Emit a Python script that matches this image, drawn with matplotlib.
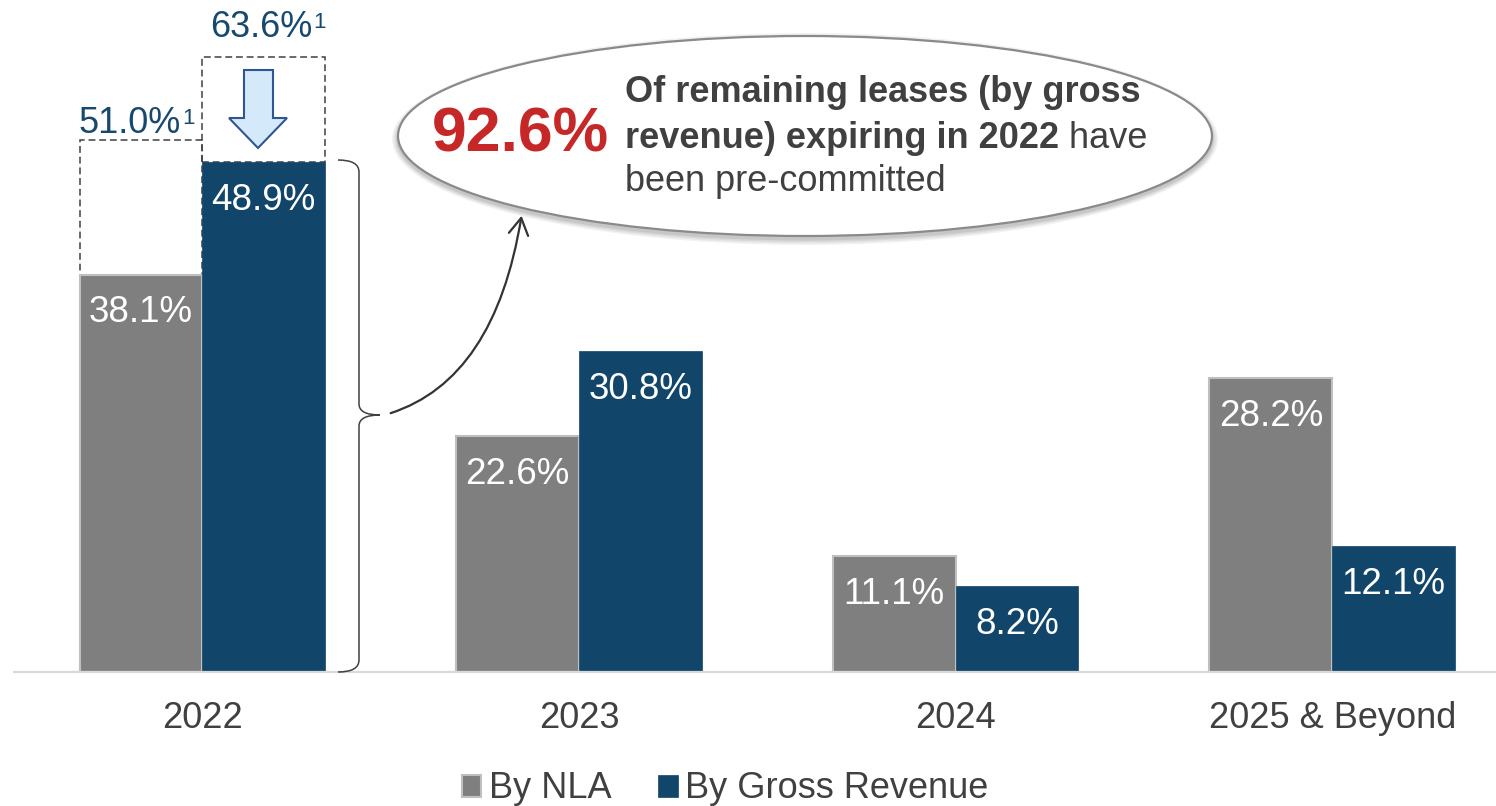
import matplotlib.pyplot as plt
from matplotlib.patches import Rectangle, Ellipse, Polygon, FancyArrowPatch, PathPatch
from matplotlib.path import Path

plt.rcParams['font.family'] = ['Liberation Sans', 'DejaVu Sans']

years = ["2022", "2023", "2024", "2025 & Beyond"]
by_nla = [38.1, 22.6, 11.1, 28.2]
by_revenue = [48.9, 30.8, 8.2, 12.1]
# 2022 figures before pre-commitments (footnote 1)
nla_2022_before = 51.0
revenue_2022_before = 63.6
precommitted = "92.6%"

GREY = "#7f7f7f"
BLUE = "#11466a"
LABEL_BLUE = "#17496e"
TEXT = "#404040"

W, H = 1496, 806
fig = plt.figure(figsize=(W / 100, H / 100), dpi=100)


def px(x, y):
    # figure pixel position (origin top-left) -> figure fraction
    return x / W, 1 - y / H


ax = fig.add_axes([14 / W, 1 - 672 / H, 1 - 14 / W, 672 / H])
ax.set_facecolor("none")

xs = list(range(len(years)))
w = 0.326
b1 = ax.bar([x - w / 2 for x in xs], by_nla, w, color=GREY, edgecolor="#bfbfbf",
            linewidth=1.5, label="By NLA", zorder=2)
b2 = ax.bar([x + w / 2 for x in xs], by_revenue, w, color=BLUE, edgecolor=BLUE,
            linewidth=0.5, label="By Gross Revenue", zorder=2)

for x, v in zip(xs, by_nla):
    ax.annotate(f"{v:.1f}%", (x - w / 2, v), xytext=(0, -15), textcoords="offset points",
                ha="center", va="top", color="white", fontsize=26.5, zorder=3)
for x, v in zip(xs, by_revenue):
    ax.annotate(f"{v:.1f}%", (x + w / 2, v), xytext=(0, -15), textcoords="offset points",
                ha="center", va="top", color="white", fontsize=26.5, zorder=3)

ax.set_xlim(-0.5, 3.435)
ax.set_ylim(0, 64.43)
ax.set_xticks(xs)
ax.set_xticklabels(years)
ax.tick_params(axis="x", length=0, pad=21, labelsize=26, labelcolor=TEXT)
ax.set_yticks([])
for s in ["top", "left", "right"]:
    ax.spines[s].set_visible(False)
ax.spines["bottom"].set_color("#d9d9d9")
ax.spines["bottom"].set_linewidth(1.6)

# dashed outlines for the 2022 values before pre-commitments
dash = dict(fill=False, edgecolor=TEXT, linewidth=1.1, linestyle=(0, (4.5, 2.5)), zorder=1)
ax.add_patch(Rectangle((-w, by_nla[0]), w, nla_2022_before - by_nla[0], **dash))
# the revenue box is drawn shortened so its label stays on the page
rev_box_top = 59.0


def footnoted(x, y, value, dx, dy):
    t = ax.annotate(f"{value:.1f}%", (x, y), xytext=(dx, dy), textcoords="offset points",
                    ha="center", va="baseline", color=LABEL_BLUE, fontsize=26)
    ax.annotate("1", (1, 1), xycoords=t, xytext=(1, -1), textcoords="offset points",
                ha="left", va="top", color=LABEL_BLUE, fontsize=16)


footnoted(-w / 2, nla_2022_before, nla_2022_before, -8, 5)
footnoted(w / 2, rev_box_top, revenue_2022_before, -2, 14)
ax.add_patch(Rectangle((0, by_revenue[0]), w, rev_box_top - by_revenue[0], **dash))

# block arrow pointing down inside the revenue box
arrow_pts = [px(244, 70), px(273, 70), px(273, 118), px(287, 118),
             px(258, 148), px(229, 118), px(244, 118)]
fig.patches.append(Polygon(arrow_pts, closed=True, facecolor="#d4eafb",
                           edgecolor="#2f5597", linewidth=1.5,
                           transform=fig.transFigure, figure=fig))

# curly brace next to the 2022 group
verts = [px(338, 160), px(359, 160), px(359, 172), px(359, 404),
         px(359, 415), px(380, 415), px(359, 415), px(359, 426),
         px(359, 660), px(359, 672), px(338, 672)]
codes = [Path.MOVETO, Path.CURVE3, Path.CURVE3, Path.LINETO,
         Path.CURVE3, Path.CURVE3, Path.CURVE3, Path.CURVE3,
         Path.LINETO, Path.CURVE3, Path.CURVE3]
fig.patches.append(PathPatch(Path(verts, codes), fill=False, edgecolor=TEXT,
                             linewidth=1.1, transform=fig.transFigure, figure=fig))

# curved arrow from the brace to the callout
fig.patches.append(FancyArrowPatch(px(388, 414), px(522, 213),
                                   connectionstyle="angle3,angleA=17,angleB=81",
                                   arrowstyle="->,head_length=0.6,head_width=0.35",
                                   mutation_scale=20, color="#333333", linewidth=1.6,
                                   transform=fig.transFigure, figure=fig))

# callout ellipse with a soft shadow
cx, cy = px(805, 136)
for i, a in enumerate([0.05, 0.05, 0.06, 0.07]):
    grow = (4 - i) * 3
    fig.patches.append(Ellipse((cx, cy - 3 / H), (814 + grow) / W, (200 + grow) / H,
                               facecolor="#000000", edgecolor="none", alpha=a,
                               transform=fig.transFigure, figure=fig))
fig.patches.append(Ellipse((cx, cy), 814 / W, 200 / H, facecolor="white",
                           edgecolor="#8a8a8a", linewidth=1.6,
                           transform=fig.transFigure, figure=fig))

fig.text(*px(432, 152), precommitted, color="#c62828", fontsize=45,
         fontweight="bold", va="baseline")
fig.text(*px(625, 102), "Of remaining leases (by gross", color=TEXT, fontsize=26,
         fontweight="bold", va="baseline")
line2 = fig.text(*px(625, 148), "revenue) expiring in 2022", color=TEXT, fontsize=26,
                 fontweight="bold", va="baseline")
fig.text(*px(625, 191), "been pre-committed", color=TEXT, fontsize=26, va="baseline")

fig.canvas.draw()
bb = line2.get_window_extent()
fig.text(bb.x1 / fig.bbox.width, 1 - 148 / H, " have", color=TEXT, fontsize=26,
         va="baseline")

ax.legend(handles=[b1, b2], loc="center", bbox_to_anchor=px(725, 789),
          bbox_transform=fig.transFigure, ncol=2, frameon=False, fontsize=26,
          labelcolor=TEXT, handlelength=0.55, handleheight=0.55,
          handletextpad=0.2, columnspacing=1.3, borderpad=0)

fig.savefig("out.png", dpi=100)
